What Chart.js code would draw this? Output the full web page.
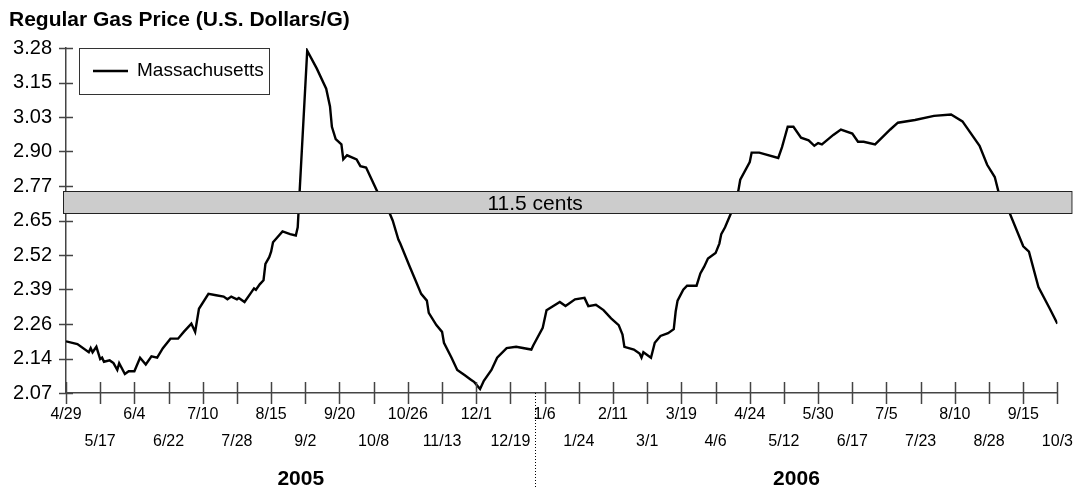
<!DOCTYPE html>
<html>
<head>
<meta charset="utf-8">
<script src="https://cdn.jsdelivr.net/npm/chart.js@4.4.1/dist/chart.umd.min.js"></script>
<style>
  body { margin: 0; background: #fff; }
  #wrap { width: 1081px; height: 494px; position: relative; }
</style>
</head>
<body>
<div id="wrap"><canvas id="myChart"></canvas></div>
<script>
const ctx = document.getElementById('myChart');

// days since 4/29/2005 and the price on that day
const days = [
  0, 6, 12, 13, 14, 15, 16, 18, 19, 20,
  23, 25, 27, 28, 31, 33, 36, 39, 42, 45,
  48, 51, 55, 59, 62, 66, 67, 68, 70, 75,
  79, 83, 85, 87, 90, 91, 94, 97, 99, 100,
  102, 104, 105, 107, 108, 109, 114, 118, 121, 122,
  123, 127, 132, 137, 139, 140, 142, 145, 146, 148,
  153, 155, 158, 161, 165, 169, 172, 175, 176, 181,
  184, 187, 190, 191, 195, 198, 199, 203, 206, 210,
  213, 215, 218, 220, 224, 227, 232, 237, 245, 246,
  251, 253, 260, 263, 268, 273, 275, 279, 283, 287,
  291, 293, 294, 299, 302, 303, 304, 308, 310, 313,
  317, 320, 321, 322, 325, 327, 332, 334, 336, 338,
  342, 344, 345, 347, 350, 354, 355, 360, 361, 365,
  375, 377, 380, 383, 387, 391, 394, 396, 398, 404,
  408, 414, 417, 420, 426, 434, 438, 447, 457, 466,
  472, 481, 485, 489, 491, 497, 504, 507, 512, 518, 522
]
const prices = [
  2.20, 2.19, 2.16, 2.175, 2.16, 2.17, 2.18, 2.135, 2.14, 2.125,
  2.13, 2.12, 2.095, 2.12, 2.08, 2.09, 2.09, 2.14, 2.115, 2.145,
  2.14, 2.175, 2.21, 2.21, 2.235, 2.265, 2.25, 2.235, 2.32, 2.375,
  2.37, 2.365, 2.355, 2.365, 2.355, 2.36, 2.345, 2.375, 2.395, 2.39,
  2.41, 2.425, 2.485, 2.51, 2.53, 2.565, 2.605, 2.595, 2.59, 2.62,
  2.75, 3.27, 3.205, 3.13, 3.065, 2.99, 2.945, 2.925, 2.87, 2.885,
  2.87, 2.845, 2.84, 2.795, 2.735, 2.695, 2.645, 2.575, 2.56, 2.475,
  2.425, 2.375, 2.35, 2.305, 2.26, 2.235, 2.195, 2.14, 2.095, 2.075,
  2.06, 2.05, 2.025, 2.055, 2.095, 2.14, 2.175, 2.18, 2.17, 2.185,
  2.25, 2.315, 2.345, 2.33, 2.355, 2.36, 2.33, 2.335, 2.315, 2.285,
  2.26, 2.225, 2.18, 2.17, 2.155, 2.14, 2.16, 2.14, 2.195, 2.22,
  2.23, 2.245, 2.31, 2.35, 2.39, 2.405, 2.405, 2.45, 2.475, 2.505,
  2.525, 2.56, 2.595, 2.62, 2.67, 2.755, 2.795, 2.86, 2.895, 2.895,
  2.875, 2.915, 2.99, 2.99, 2.95, 2.94, 2.92, 2.93, 2.925, 2.96,
  2.98, 2.965, 2.935, 2.935, 2.925, 2.98, 3.005, 3.015, 3.03, 3.035,
  3.01, 2.92, 2.85, 2.805, 2.75, 2.67, 2.55, 2.53, 2.40, 2.32, 2.265
]

const xTickLabels = ['4/29', '5/17', '6/4', '6/22', '7/10', '7/28', '8/15', '9/2', '9/20', '10/8',
  '10/26', '11/13', '12/1', '12/19', '1/6', '1/24', '2/11', '3/1', '3/19', '4/6',
  '4/24', '5/12', '5/30', '6/17', '7/5', '7/23', '8/10', '8/28', '9/15', '10/3']
const tickEvery = 18

const yTickLabels = ['2.07', '2.14', '2.26', '2.39', '2.52', '2.65', '2.77', '2.90', '3.03', '3.15', '3.28']
const yMin = 2.01
const yMax = 3.28

const yearLabels = ['2005', '2006']
const yearSplitDay = 247   // 1/1/2006

const bandLow = 2.67
const bandHigh = 2.752
const bandText = '11.5 cents'

const titleText = 'Regular Gas Price (U.S. Dollars/G)'
const seriesName = 'Massachusetts'

const FONT = '"Liberation Sans", Arial, sans-serif'

const decor = {
  id: 'decor',
  afterDatasetsDraw(chart) {
    const c = chart.ctx
    const area = chart.chartArea
    const y = chart.scales.y
    const x = chart.scales.x
    const top = y.getPixelForValue(bandHigh)
    const bot = y.getPixelForValue(bandLow)
    c.save()
    c.fillStyle = '#cccccc'
    c.strokeStyle = '#222'
    c.lineWidth = 1
    c.fillRect(area.left - 3, top, area.right - area.left + 17, bot - top)
    c.strokeRect(area.left - 3 + 0.5, Math.round(top) + 0.5, area.right - area.left + 17, Math.round(bot - top))
    c.fillStyle = '#000'
    c.font = '21px ' + FONT
    c.textAlign = 'center'
    c.textBaseline = 'middle'
    c.fillText(bandText, x.getPixelForValue(yearSplitDay), (top + bot) / 2 + 2)
    c.restore()
  },
  afterDraw(chart) {
    const c = chart.ctx
    const area = chart.chartArea
    const x = chart.scales.x
    const y = chart.scales.y
    c.save()
    c.strokeStyle = '#444'
    c.lineWidth = 1.5
    c.beginPath()
    x.ticks.forEach(t => {
      const px = Math.round(x.getPixelForValue(t.value)) + 0.5
      c.moveTo(px, area.bottom - 11)
      c.lineTo(px, area.bottom + 11)
    })
    y.ticks.forEach(t => {
      const py = Math.round(y.getPixelForValue(t.value)) + 0.5
      c.moveTo(area.left - 7, py)
      c.lineTo(area.left + 7, py)
    })
    c.stroke()

    // year divider
    const sx = Math.round(x.getPixelForValue(yearSplitDay)) + 0.5
    c.strokeStyle = '#000'
    c.lineWidth = 1
    c.setLineDash([1, 2])
    c.beginPath()
    c.moveTo(sx, area.bottom)
    c.lineTo(sx, area.bottom + 96)
    c.stroke()
    c.setLineDash([])

    c.fillStyle = '#000'
    c.font = 'bold 21px ' + FONT
    c.textAlign = 'center'
    c.textBaseline = 'middle'
    c.fillText(yearLabels[0], (area.left + sx) / 2, area.bottom + 86)
    c.fillText(yearLabels[1], (sx + area.right) / 2, area.bottom + 86)

    // title
    c.textAlign = 'left'
    c.fillText(titleText, 9, 20)

    // legend box
    const lx = area.left + 13
    const ly = area.top
    c.fillStyle = '#fff'
    c.fillRect(lx, ly, 190, 46)
    c.strokeStyle = '#333'
    c.lineWidth = 1
    c.strokeRect(lx + 0.5, ly + 0.5, 190, 46)
    c.strokeStyle = '#000'
    c.lineWidth = 2.4
    c.beginPath()
    c.moveTo(lx + 14, ly + 23)
    c.lineTo(lx + 49, ly + 23)
    c.stroke()
    c.fillStyle = '#000'
    c.font = '19px ' + FONT
    c.fillText(seriesName, lx + 58, ly + 23)
    c.restore()
  }
}

new Chart(ctx, {
  type: 'line',
  data: {
    datasets: [{
      label: seriesName,
      data: days.map((d, i) => ({ x: d, y: prices[i] })),
      borderColor: '#000',
      borderWidth: 2.4,
      pointRadius: 0,
      tension: 0,
      fill: false
    }]
  },
  options: {
    responsive: true,
    maintainAspectRatio: false,
    animation: false,
    layout: { padding: { top: 48, right: 21, left: 0, bottom: 0 } },
    plugins: {
      legend: { display: false },
      tooltip: { enabled: false }
    },
    scales: {
      x: {
        type: 'linear',
        min: 0,
        max: (xTickLabels.length - 1) * tickEvery,
        afterBuildTicks: s => { s.ticks = xTickLabels.map((_, i) => ({ value: i * tickEvery })) },
        afterFit: s => { s.height = 101 },
        grid: { display: false, drawTicks: false },
        border: { display: true, color: '#444', width: 1.5 },
        ticks: {
          autoSkip: false,
          maxRotation: 0,
          minRotation: 0,
          padding: 8,
          color: '#000',
          font: { family: FONT, size: 16, lineHeight: 1.7 },
          callback: (v, i) => i % 2 === 0 ? [xTickLabels[i]] : ['', xTickLabels[i]]
        }
      },
      y: {
        type: 'linear',
        min: yMin,
        max: yMax,
        afterBuildTicks: s => {
          const step = (yMax - yMin) / (yTickLabels.length - 1)
          s.ticks = yTickLabels.map((_, i) => ({ value: yMin + i * step }))
        },
        afterFit: s => { s.width = 66 },
        grid: { display: false, drawTicks: false },
        border: { display: true, color: '#444', width: 1.5 },
        ticks: {
          padding: 14,
          color: '#000',
          font: { family: FONT, size: 20 },
          callback: (v, i) => yTickLabels[i]
        }
      }
    }
  },
  plugins: [decor]
});
</script>
</body>
</html>
